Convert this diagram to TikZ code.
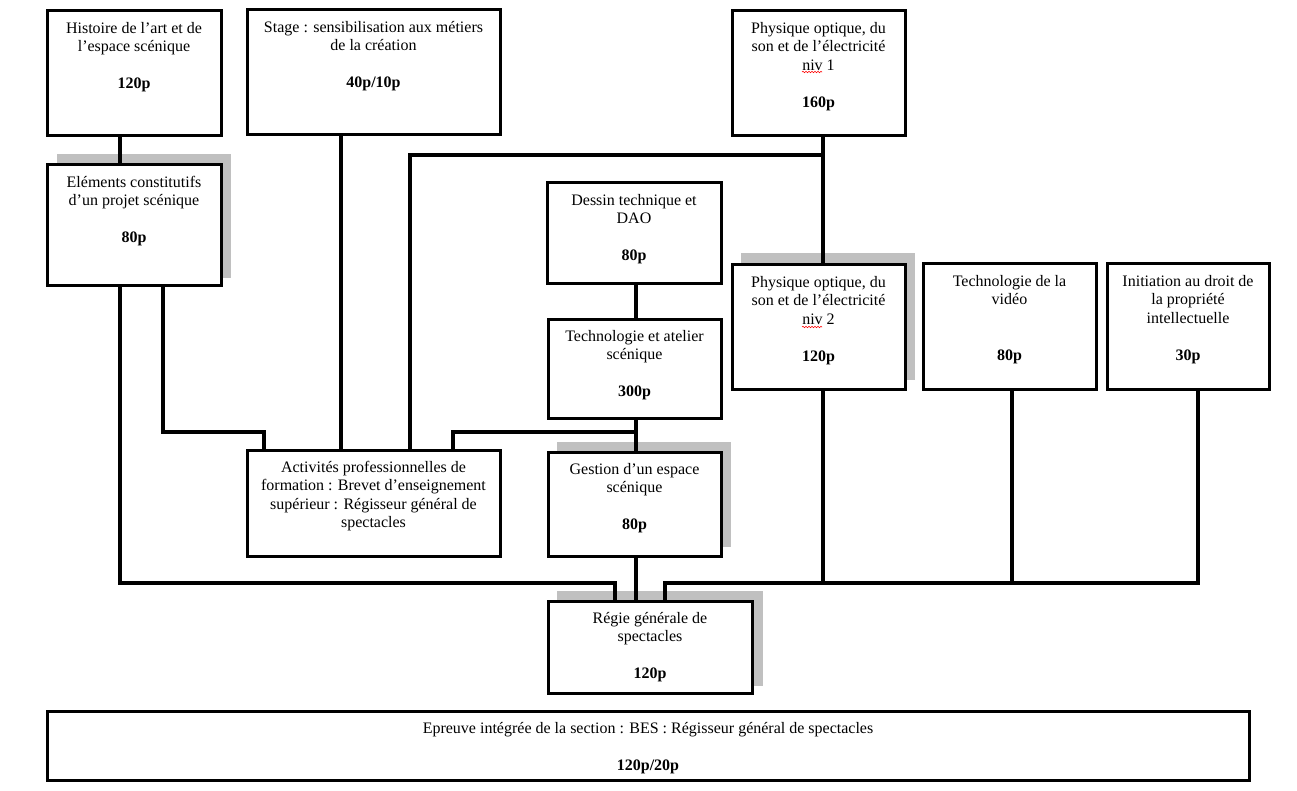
\documentclass[tikz,border=0pt]{standalone}
\usepackage{fontspec}
\setmainfont{Liberation Serif}
\usetikzlibrary{decorations.pathmorphing}
\definecolor{shadegray}{RGB}{192,192,192}
\tikzset{
  boxst/.style={draw, line width=3pt, fill=white, rectangle, inner sep=0pt, outer sep=0pt},
  shadowst/.style={fill=shadegray},
  lbl/.style={anchor=north, inner sep=0pt, align=center, font=\fontsize{16}{18.5}\selectfont},
  wire/.style={line width=4pt},
  spell/.style={draw=red, line width=0.6pt, decorate, decoration={snake, amplitude=0.7pt, segment length=3pt}},
}
\newcommand\mkbox[5]{\node[boxst, minimum width={(#4)-(#2)}, minimum height={(#5)-(#3)}] (#1) at ({((#2)+(#4))/2},{((#3)+(#5))/2}) {};}
\newcommand\mklbl[2]{\node[lbl] (#1-t) at ([yshift=-9pt]#1.north) {\strut #2};}
\begin{document}
\begin{tikzpicture}[x=1pt,y=-1pt]
\useasboundingbox (0,0) rectangle (1297,791);
% shadows
\fill[shadowst] (57,154) rectangle (231,278);
\fill[shadowst] (741,253) rectangle (915,380);
\fill[shadowst] (557,442) rectangle (731,547);
\fill[shadowst] (557,591) rectangle (763,686);
% boxes
\mkbox{A}{47}{11}{221}{136}
\mkbox{B}{247}{10}{500}{135}
\mkbox{C}{47}{165}{221}{286}
\mkbox{D}{732}{11}{905}{136}
\mkbox{E}{547}{183}{721}{284}
\mkbox{F}{732}{265}{905}{389}
\mkbox{G}{923}{264}{1096}{389}
\mkbox{H}{1107}{264}{1269}{389}
\mkbox{I}{548}{319}{721}{418}
\mkbox{J}{548}{452}{721}{556}
\mkbox{K}{247}{450}{500}{556}
\mkbox{L}{548}{601}{752}{693}
\mkbox{M}{47}{711}{1249}{780}
% connectors
\draw[wire] (A.south -| 120,0) -- (C.north -| 120,0);
\draw[wire] (C.south -| 163,0) -- (163,432) -| (K.north -| 264,0);
\draw[wire] (C.south -| 120,0) |- (615,583) -- (L.north -| 615,0);
\draw[wire] (B.south -| 341,0) -- (K.north -| 341,0);
\draw[wire] (D.south -| 823,0) -- (F.north -| 823,0);
\draw[wire] (823,155) -| (K.north -| 410,0);
\draw[wire] (E.south -| 636,0) -- (I.north -| 636,0);
\draw[wire] (I.south -| 636,0) -- (J.north -| 636,0);
\draw[wire] (636,432) -| (K.north -| 453,0);
\draw[wire] (J.south -| 636,0) -- (L.north -| 636,0);
\draw[wire] (F.south -| 823,0) -- (823,583);
\draw[wire] (G.south -| 1012,0) -- (1012,583);
\draw[wire] (H.south -| 1198,0) |- (665,583) -- (L.north -| 665,0);
% labels
\mklbl{A}{Histoire de l’art et de\\l’espace scénique\\ \\\textbf{120p}}
\mklbl{B}{Stage : sensibilisation aux métiers\\de la création\\ \\\textbf{40p/10p}}
\mklbl{C}{Eléments constitutifs\\d’un projet scénique\\ \\\textbf{80p}}
\mklbl{D}{Physique optique, du\\son et de l’électricité\\niv 1\\ \\\textbf{160p}}
\mklbl{E}{Dessin technique et\\DAO\\ \\\textbf{80p}}
\mklbl{F}{Physique optique, du\\son et de l’électricité\\niv 2\\ \\\textbf{120p}}
\mklbl{G}{Technologie de la\\vidéo\\ \\ \\\textbf{80p}}
\mklbl{H}{Initiation au droit de\\la propriété\\intellectuelle\\ \\\textbf{30p}}
\mklbl{I}{Technologie et atelier\\scénique\\ \\\textbf{300p}}
\mklbl{J}{Gestion d’un espace\\scénique\\ \\\textbf{80p}}
\mklbl{K}{Activités professionnelles de\\formation : Brevet d’enseignement\\supérieur : Régisseur général de\\spectacles}
\mklbl{L}{Régie générale de\\spectacles\\ \\\textbf{120p}}
\mklbl{M}{Epreuve intégrée de la section : BES : Régisseur général de spectacles\\ \\\textbf{120p/20p}}
% spelling marks
\draw[spell] (802,72) -- (822,72);
\draw[spell] (802,327) -- (822,327);
\end{tikzpicture}
\end{document}
